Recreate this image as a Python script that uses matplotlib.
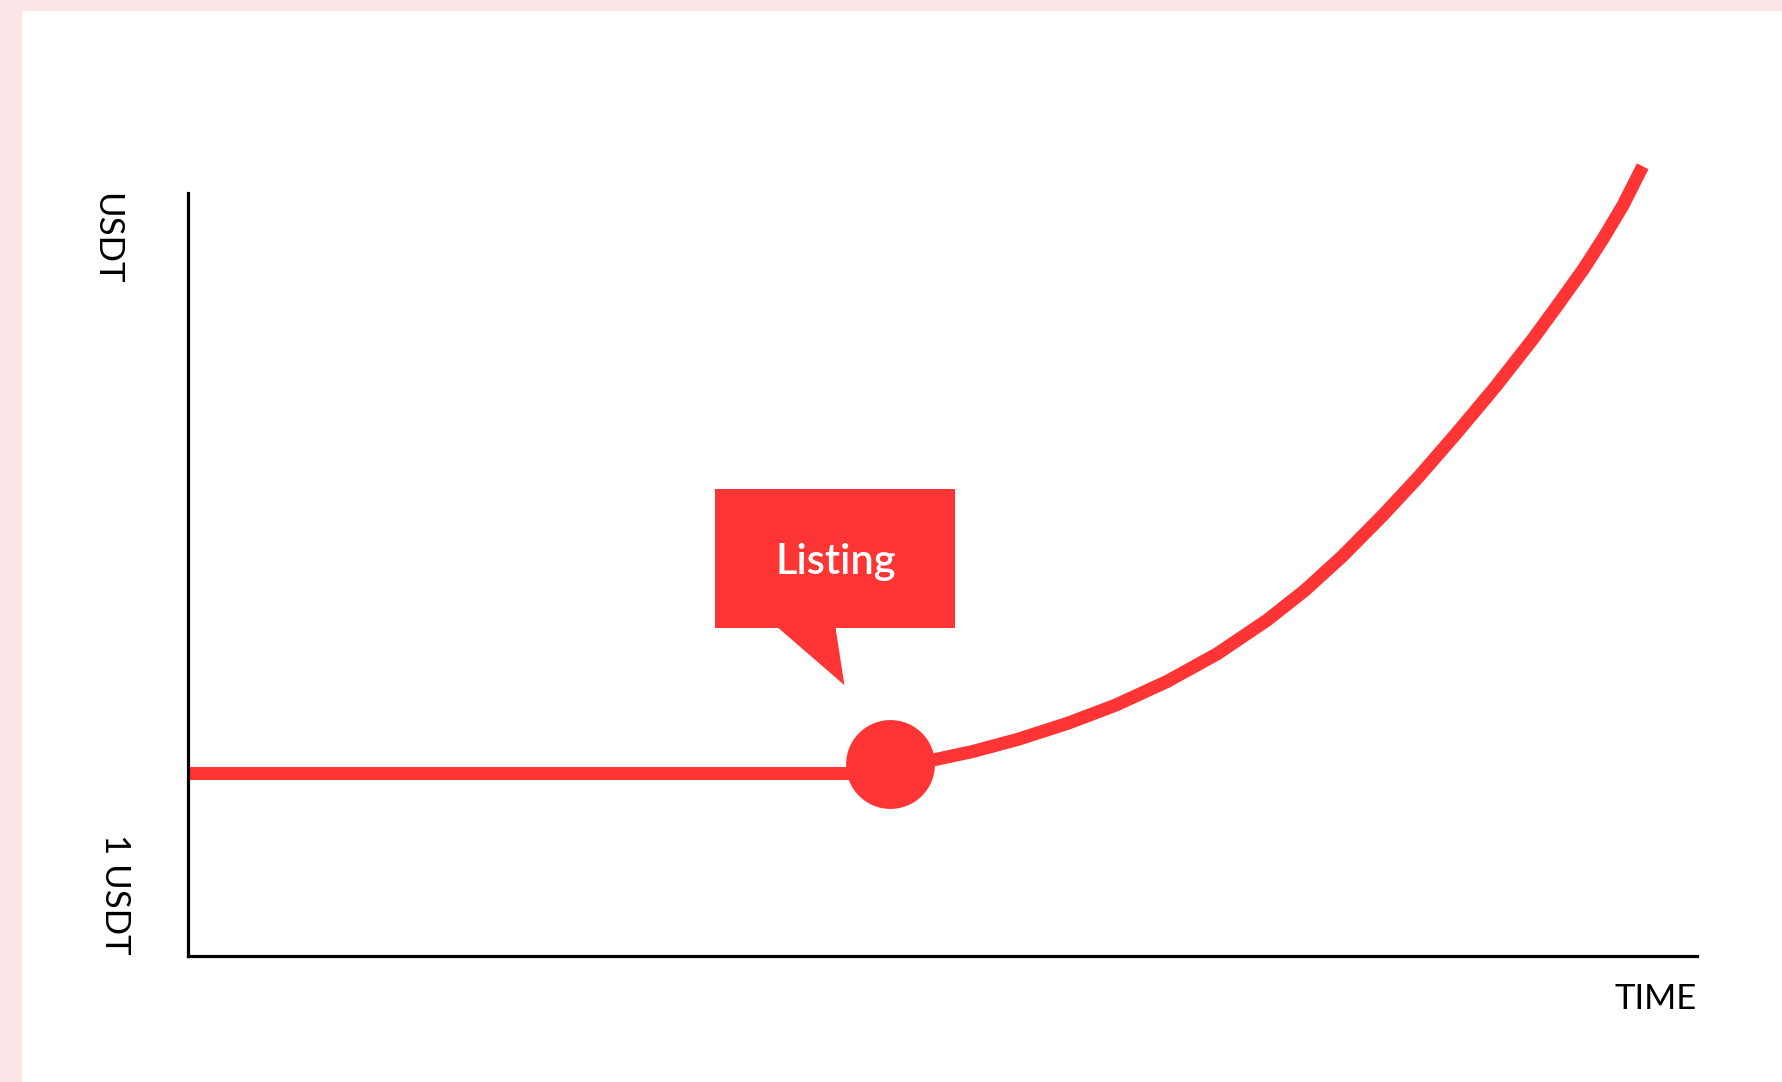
import matplotlib
matplotlib.use("Agg")
import matplotlib.pyplot as plt
from matplotlib.patches import Rectangle, Polygon

# данные: время (условные единицы) и цена
time_flat = [0, 46.5]
price_flat = [24.0, 24.0]

time_growth = [46.5, 49.4, 52.0, 55.0, 58.3, 61.5, 64.9, 68.2, 71.5, 74.0, 76.5,
               79.2, 81.6, 84.1, 86.6, 89.1, 90.8, 92.5, 93.8, 95.1, 96.4]
price_growth = [24.6, 25.7, 26.8, 28.4, 30.5, 32.9, 36.0, 39.6, 44.0, 47.9, 52.4,
                57.8, 62.9, 68.6, 74.5, 80.8, 85.4, 90.1, 94.1, 98.4, 103.5]

listing_time = 46.5
listing_price = 25.2

y_label_top = 'USDT'
y_label_bottom = '1 USDT'
x_label = 'TIME'
callout_text = 'Listing'

RED = '#ff3434'
PINK = '#fde4e6'
W, H = 1783, 1082

plt.rcParams['font.family'] = ['Lato', 'DejaVu Sans']

fig = plt.figure(figsize=(W / 100, H / 100), dpi=100, facecolor=PINK)
# белая панель
fig.patches.append(Rectangle((22 / W, 0), 1, 1 - 11 / H, transform=fig.transFigure,
                             facecolor='white', edgecolor='none', zorder=-10))

ax = fig.add_axes([188 / W, 1 - 956 / H, (1697 - 188) / W, (956 - 193) / H])
ax.set_zorder(5)
ax.set_facecolor('none')
ax.set_xlim(0, 100)
ax.set_ylim(0, 100)
for side in ['top', 'right']:
    ax.spines[side].set_visible(False)
for side in ['left', 'bottom']:
    ax.spines[side].set_linewidth(2.3)
    ax.spines[side].set_color('black')
ax.set_xticks([])
ax.set_yticks([])

ax.plot(time_flat, price_flat, color=RED, lw=9.4, solid_capstyle='butt', clip_on=False)
ax.plot(time_growth, price_growth, color=RED, lw=9.4, solid_capstyle='butt',
        solid_joinstyle='round', clip_on=False)
ax.plot([listing_time], [listing_price], 'o', color=RED, ms=64, mec='none', clip_on=False)

# выноска "Listing"
ax.add_patch(Rectangle((34.9, 43.0), 50.8 - 34.9, 61.2 - 43.0, facecolor=RED,
                       edgecolor='none', clip_on=False))
ax.add_patch(Polygon([(39.0, 43.2), (42.9, 43.2), (43.5, 35.5)], closed=True,
                     facecolor=RED, edgecolor='none', clip_on=False))
ax.text(42.9, 51.6, callout_text, color='white', fontsize=30, ha='center', va='center',
        fontweight='semibold')

fig.text(106 / W, 1 - 193 / H, y_label_top, rotation=270, ha='center', va='top',
         fontsize=25)
fig.text(115 / W, 1 - 955 / H, y_label_bottom, rotation=270, ha='center', va='bottom',
         fontsize=25)
fig.text(1697 / W, 1 - 1009 / H, x_label, ha='right', va='baseline', fontsize=25)

fig.savefig('out.png', dpi=100, facecolor=PINK)
